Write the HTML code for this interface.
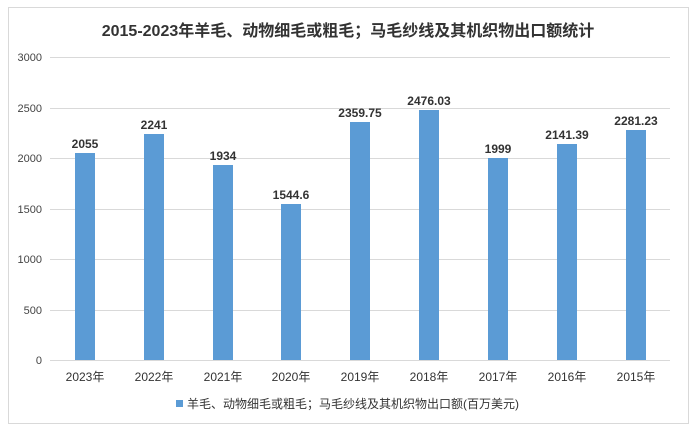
<!DOCTYPE html><html><head><meta charset="utf-8"><style>body{margin:0;background:#fff}svg text{font-family:"Liberation Sans","Noto Sans CJK SC",sans-serif}</style></head><body>
<svg width="697" height="432" xmlns="http://www.w3.org/2000/svg">
<rect x="8.5" y="7.5" width="680" height="416" fill="#fff" stroke="#d9d9d9"/>
<text x="348" y="36" text-anchor="middle" font-size="16" font-weight="bold" fill="#333">2015-2023年羊毛、动物细毛或粗毛；马毛纱线及其机织物出口额统计</text>
<g stroke="#d9d9d9" stroke-width="1">
<line x1="50" x2="670" y1="57.5" y2="57.5"/><line x1="50" x2="670" y1="108.5" y2="108.5"/><line x1="50" x2="670" y1="158.5" y2="158.5"/><line x1="50" x2="670" y1="209.5" y2="209.5"/><line x1="50" x2="670" y1="259.5" y2="259.5"/><line x1="50" x2="670" y1="310.5" y2="310.5"/><line x1="50" x2="670" y1="360.5" y2="360.5"/></g>
<g font-size="11" fill="#444" text-anchor="end">
<text x="42" y="61">3000</text><text x="42" y="112">2500</text><text x="42" y="162">2000</text><text x="42" y="213">1500</text><text x="42" y="263">1000</text><text x="42" y="314">500</text><text x="42" y="364">0</text></g>
<g fill="#5b9bd5">
<rect x="75" y="153" width="20" height="207"/>
<rect x="144" y="134" width="20" height="226"/>
<rect x="213" y="165" width="20" height="195"/>
<rect x="281" y="204" width="20" height="156"/>
<rect x="350" y="122" width="20" height="238"/>
<rect x="419" y="110" width="20" height="250"/>
<rect x="488" y="158" width="20" height="202"/>
<rect x="557" y="144" width="20" height="216"/>
<rect x="626" y="130" width="20" height="230"/></g>
<g font-size="12" font-weight="bold" fill="#333" text-anchor="middle">
<text x="85" y="148">2055</text><text x="154" y="129">2241</text><text x="223" y="160">1934</text><text x="291" y="199">1544.6</text><text x="360" y="117">2359.75</text><text x="429" y="105">2476.03</text><text x="498" y="153">1999</text><text x="567" y="139">2141.39</text><text x="636" y="125">2281.23</text></g>
<g font-size="12" fill="#333" text-anchor="middle">
<text x="85" y="381">2023年</text><text x="154" y="381">2022年</text><text x="223" y="381">2021年</text><text x="291" y="381">2020年</text><text x="360" y="381">2019年</text><text x="429" y="381">2018年</text><text x="498" y="381">2017年</text><text x="567" y="381">2016年</text><text x="636" y="381">2015年</text></g>
<rect x="176" y="400" width="7" height="7" fill="#5b9bd5"/>
<text x="187" y="408" font-size="12" fill="#333">羊毛、动物细毛或粗毛；马毛纱线及其机织物出口额(百万美元)</text>
</svg></body></html>
